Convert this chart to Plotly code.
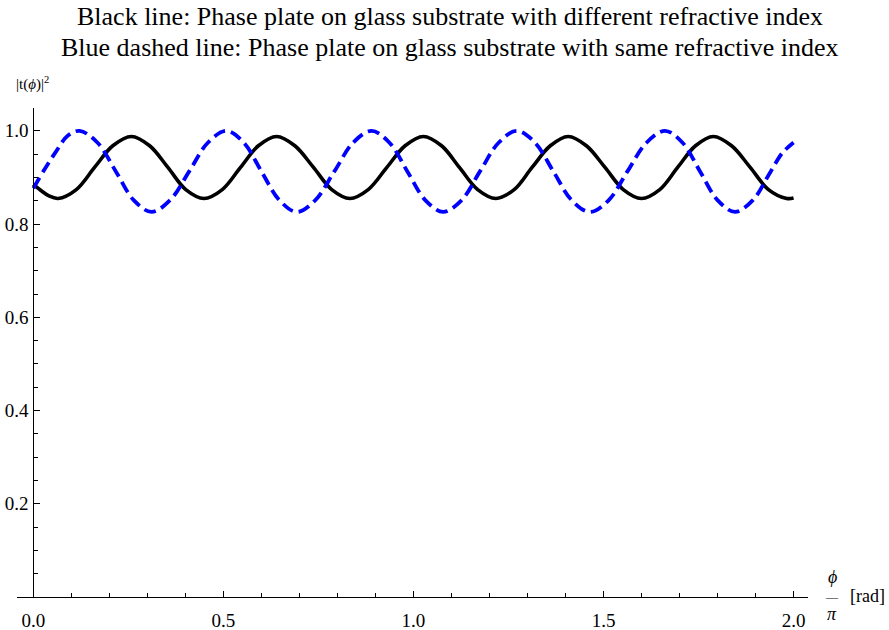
import plotly.graph_objects as go

# Black solid: phase plate on glass substrate with different refractive index
black_x = [0.000, 0.020, 0.040, 0.065, 0.113, 0.161, 0.209, 0.258, 0.306, 0.354, 0.401, 0.449,
           0.497, 0.545, 0.592, 0.640, 0.688, 0.737, 0.785, 0.833, 0.881, 0.930, 0.978, 1.026,
           1.074, 1.121, 1.169, 1.217, 1.265, 1.312, 1.360, 1.407, 1.455, 1.504, 1.552, 1.600,
           1.648, 1.695, 1.742, 1.789, 1.837, 1.886, 1.934, 1.982, 2.000]
black_y = [0.885, 0.872, 0.861, 0.855, 0.874, 0.9215, 0.968, 0.988, 0.968, 0.9215, 0.874, 0.855,
           0.874, 0.9215, 0.968, 0.988, 0.968, 0.9215, 0.874, 0.855, 0.874, 0.9215, 0.968, 0.988,
           0.968, 0.9215, 0.874, 0.855, 0.874, 0.9215, 0.968, 0.988, 0.968, 0.9215, 0.874, 0.855,
           0.874, 0.9215, 0.968, 0.988, 0.968, 0.9215, 0.874, 0.855, 0.856]

# Blue dashed: phase plate on glass substrate with same refractive index
blue_x = [0.000, 0.030, 0.060, 0.091, 0.122, 0.169, 0.217, 0.264, 0.311, 0.360, 0.410, 0.459,
          0.508, 0.554, 0.600, 0.647, 0.693, 0.742, 0.792, 0.841, 0.890, 0.937, 0.984, 1.031,
          1.078, 1.127, 1.175, 1.224, 1.272, 1.320, 1.368, 1.416, 1.464, 1.514, 1.563, 1.613,
          1.662, 1.708, 1.754, 1.800, 1.846, 1.893, 1.940, 1.970, 2.000]
blue_y = [0.877, 0.918, 0.956, 0.990, 1.000, 0.9745, 0.913, 0.8515, 0.826, 0.8515, 0.913, 0.9745,
          1.000, 0.9745, 0.913, 0.8515, 0.826, 0.8515, 0.913, 0.9745, 1.000, 0.9745, 0.913, 0.8515,
          0.826, 0.8515, 0.913, 0.9745, 1.000, 0.9745, 0.913, 0.8515, 0.826, 0.8515, 0.913, 0.9745,
          1.000, 0.9745, 0.913, 0.8515, 0.826, 0.8515, 0.913, 0.952, 0.975]

x_ticks = [0.0, 0.5, 1.0, 1.5, 2.0]
x_tick_labels = ["0.0", "0.5", "1.0", "1.5", "2.0"]
y_ticks = [0.2, 0.4, 0.6, 0.8, 1.0]
y_tick_labels = ["0.2", "0.4", "0.6", "0.8", "1.0"]

title_lines = ["Black line: Phase plate on glass substrate with different refractive index",
               "Blue dashed line: Phase plate on glass substrate with same refractive index"]

FONT = "Liberation Serif, Times New Roman, serif"
TICKFONT = dict(family="Liberation Serif", size=19, color="black")
XR = [-0.043, 2.038]
YR = [0.0, 1.049]

fig = go.Figure()
fig.add_trace(go.Scatter(x=black_x, y=black_y, mode="lines",
                         line=dict(color="black", width=3.6, shape="spline", smoothing=1.0),
                         showlegend=False, hoverinfo="skip"))
fig.add_trace(go.Scatter(x=blue_x, y=blue_y, mode="lines",
                         line=dict(color="#0000ff", width=3.8, dash="12px,6px", shape="spline", smoothing=1.0),
                         showlegend=False, hoverinfo="skip"))

fig.update_layout(
    width=889, height=630,
    margin=dict(l=17, r=81, t=108, b=33, autoexpand=False),
    paper_bgcolor="white", plot_bgcolor="white",
    font=dict(family=FONT, size=19, color="black"),
    xaxis=dict(range=XR, domain=[0, 1], showgrid=False, zeroline=False, automargin=False,
               showline=True, linecolor="black", linewidth=1,
               tickmode="array", tickvals=x_ticks, ticktext=x_tick_labels,
               ticks="inside", ticklen=6, tickcolor="black", tickwidth=1,
               ticklabelstandoff=6,
               minor=dict(tickmode="linear", tick0=0, dtick=0.1, ticks="inside", ticklen=4,
                          tickcolor="black", showgrid=False),
               tickfont=TICKFONT),
    yaxis=dict(range=YR, showgrid=False, zeroline=False, automargin=False,
               anchor="free", position=(0 - XR[0]) / (XR[1] - XR[0]),
               showline=True, linecolor="black", linewidth=1,
               tickmode="array", tickvals=y_ticks, ticktext=y_tick_labels,
               ticks="inside", ticklen=6, tickcolor="black", tickwidth=1,
               ticklabelstandoff=1,
               minor=dict(tickmode="linear", tick0=0, dtick=0.05, ticks="inside", ticklen=4,
                          tickcolor="black", showgrid=False),
               tickfont=TICKFONT),
)

ann = []
def add(text, x, y, size):
    ann.append(dict(text=text, xref="paper", yref="paper", x=x, y=y,
                    xanchor="center", yanchor="middle", showarrow=False,
                    font=dict(family=FONT, size=size, color="black")))

add(title_lines[0], 0.547, 1.188, 26)
add(title_lines[1], 0.547, 1.124, 26)
add("|t(<i>ϕ</i>)|<sup>2</sup>", 0.019, 1.050, 15)
add("<i>ϕ</i>", 1.0306, 0.040, 18)
add("—", 1.0306, 0.001, 12)
add("<i>π</i>", 1.0306, -0.034, 18)
add("[rad]", 1.0746, 0.003, 18)
fig.update_layout(annotations=ann)

fig.write_html("out.html")
